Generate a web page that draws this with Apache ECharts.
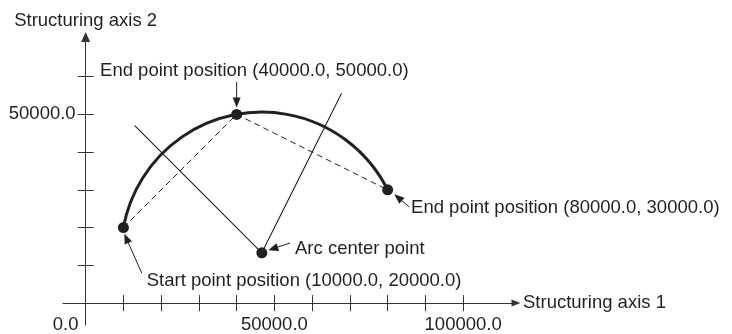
<!DOCTYPE html>
<html>
<head>
<meta charset="utf-8">
<script src="https://cdn.jsdelivr.net/npm/echarts@6/dist/echarts.min.js"></script>
<style>
html, body { margin: 0; padding: 0; background: #fff; }
#chart { width: 732px; height: 334px; }
</style>
</head>
<body>
<div id="chart"></div>
<script>
// points of the arc (structuring axis 1, structuring axis 2)
var startPoint = [10000, 20000];
var endPoint1 = [40000, 50000];
var endPoint2 = [80000, 30000];
var arcCenter = [46667, 13333];
// far ends of the two perpendicular bisectors drawn through the center
var bisectorEnds = [[13000, 47000], [67800, 55600]];

// axis ticks and labels
var xTickValues = [10000, 20000, 30000, 40000, 50000, 60000, 70000, 80000, 90000, 100000];
var yTickValues = [10000, 20000, 30000, 40000, 50000, 60000];
var xLabelValues = [0, 50000, 100000];
var yLabelValues = [50000];

var pointNames = [
	'Start point position (10000.0, 20000.0)',
	'End point position (40000.0, 50000.0)',
	'End point position (80000.0, 30000.0)',
	'Arc center point'
];
var annotatedPoints = [startPoint, endPoint1, endPoint2, arcCenter];

// pixel offsets of arrow tip / tail and text, relative to each point
var annotationLayout = [
	{ tip: [0.9, 6.1], tail: [18.3, 45.4], text: [23.3, 52.9], align: 'left' },
	{ tip: [0, -7], tail: [0, -32.4], text: [-136.6, -43.7], align: 'left' },
	{ tip: [6.6, 4.4], tail: [21.7, 17.1], text: [23.4, 17.9], align: 'left' },
	{ tip: [6.5, -2.5], tail: [28.2, -9.8], text: [33.2, -4.1], align: 'left' }
];

var ink = '#231f20';
var axisColor = '#333';
var fontFamily = '"Liberation Sans", Arial, sans-serif';
var fontSize = 18.5;

// axis extents (axis lines run a little past the origin) and grid box
var xMin = -6000, xMax = 114000;
var yMin = -5800, yMax = 70500;
var gridLeft = 63, gridTop = 37, gridWidth = 453, gridHeight = 288;
// shift the axes from the grid edge to the origin
var xAxisShift = -(0 - yMin) / (yMax - yMin) * gridHeight;
var yAxisShift = -(0 - xMin) / (xMax - xMin) * gridWidth;

var myChart = echarts.init(document.getElementById('chart'));

function fmt(v) {
	if (v === 0) {
		return '{z|0.0}';
	}
	return v.toFixed(1);
}

var option = {
	animation: false,
	grid: {
		left: gridLeft,
		top: gridTop,
		width: gridWidth,
		height: gridHeight,
		containLabel: false,
		outerBoundsMode: 'none'
	},
	xAxis: [
		{
			type: 'value',
			min: xMin,
			max: xMax,
			position: 'bottom',
			offset: xAxisShift,
			name: 'Structuring axis 1',
			nameLocation: 'end',
			nameGap: 7,
			nameTextStyle: { color: ink, fontSize: fontSize, fontFamily: fontFamily, padding: [0, 0, 3, 0] },
			axisLine: {
				onZero: false,
				symbol: ['none', 'triangle'],
				symbolSize: [7, 9],
				lineStyle: { color: axisColor, width: 1 }
			},
			axisTick: { length: 8, customValues: xTickValues, lineStyle: { color: axisColor, width: 1 } },
			axisLabel: {
				customValues: xLabelValues,
				margin: 12,
				color: ink,
				fontSize: fontSize,
				fontFamily: fontFamily,
				formatter: fmt,
				rich: {
					z: { color: ink, fontSize: fontSize, fontFamily: fontFamily, padding: [0, 40, 0, 0] }
				}
			},
			splitLine: { show: false }
		},
		{
			// second axis only for the tick halves above the line
			type: 'value',
			min: xMin,
			max: xMax,
			position: 'bottom',
			offset: xAxisShift,
			axisLine: { show: false, onZero: false },
			axisTick: { show: true, inside: true, length: 8, customValues: xTickValues, lineStyle: { color: axisColor, width: 1 } },
			axisLabel: { show: false },
			splitLine: { show: false }
		}
	],
	yAxis: [
		{
			type: 'value',
			min: yMin,
			max: yMax,
			position: 'left',
			offset: yAxisShift,
			name: 'Structuring axis 2',
			nameLocation: 'end',
			nameGap: 7,
			nameTextStyle: { color: ink, fontSize: fontSize, fontFamily: fontFamily },
			axisLine: {
				onZero: false,
				symbol: ['none', 'triangle'],
				symbolSize: [9, 10],
				lineStyle: { color: axisColor, width: 1 }
			},
			axisTick: { length: 8, customValues: yTickValues, lineStyle: { color: axisColor, width: 1 } },
			axisLabel: {
				customValues: yLabelValues,
				margin: 10,
				color: ink,
				fontSize: fontSize,
				fontFamily: fontFamily,
				formatter: fmt
			},
			splitLine: { show: false }
		},
		{
			type: 'value',
			min: yMin,
			max: yMax,
			position: 'left',
			offset: yAxisShift,
			axisLine: { show: false, onZero: false },
			axisTick: { show: true, inside: true, length: 8, customValues: yTickValues, lineStyle: { color: axisColor, width: 1 } },
			axisLabel: { show: false },
			splitLine: { show: false }
		}
	],
	series: [
		{
			name: 'bisectors',
			type: 'line',
			data: [bisectorEnds[0], arcCenter, bisectorEnds[1]],
			showSymbol: false,
			silent: true,
			lineStyle: { color: ink, width: 1.1 }
		},
		{
			name: 'chords',
			type: 'line',
			data: [startPoint, endPoint1, endPoint2],
			showSymbol: false,
			silent: true,
			lineStyle: { color: ink, width: 1, type: [6, 4] }
		},
		{
			name: 'arc',
			type: 'custom',
			silent: true,
			data: [[arcCenter[0], arcCenter[1], startPoint[0], startPoint[1], endPoint2[0], endPoint2[1]]],
			encode: { x: [0, 2, 4], y: [1, 3, 5] },
			renderItem: function (params, api) {
				var c = api.coord([api.value(0), api.value(1)]);
				var s = api.coord([api.value(2), api.value(3)]);
				var e = api.coord([api.value(4), api.value(5)]);
				var r = Math.sqrt((s[0] - c[0]) * (s[0] - c[0]) + (s[1] - c[1]) * (s[1] - c[1]));
				return {
					type: 'arc',
					shape: {
						cx: c[0],
						cy: c[1],
						r: r,
						startAngle: Math.atan2(s[1] - c[1], s[0] - c[0]),
						endAngle: Math.atan2(e[1] - c[1], e[0] - c[0]),
						clockwise: true
					},
					style: { stroke: ink, lineWidth: 3, fill: null }
				};
			}
		},
		{
			name: 'points',
			type: 'scatter',
			data: annotatedPoints,
			symbolSize: 11,
			silent: true,
			itemStyle: { color: ink, opacity: 1 },
			z: 5
		},
		{
			name: 'annotations',
			type: 'custom',
			silent: true,
			data: annotatedPoints,
			z: 6,
			renderItem: function (params, api) {
				var p = api.coord([api.value(0), api.value(1)]);
				var a = annotationLayout[params.dataIndex];
				var tip = [p[0] + a.tip[0], p[1] + a.tip[1]];
				var tail = [p[0] + a.tail[0], p[1] + a.tail[1]];
				var dx = tip[0] - tail[0];
				var dy = tip[1] - tail[1];
				var len = Math.sqrt(dx * dx + dy * dy);
				var ux = dx / len, uy = dy / len;
				var hl = 10, hw = 4;
				var base = [tip[0] - ux * hl, tip[1] - uy * hl];
				return {
					type: 'group',
					children: [
						{
							type: 'line',
							shape: { x1: tail[0], y1: tail[1], x2: base[0] + ux * 2, y2: base[1] + uy * 2 },
							style: { stroke: ink, lineWidth: 1 }
						},
						{
							type: 'polygon',
							shape: { points: [tip, [base[0] - uy * hw, base[1] + ux * hw], [base[0] + uy * hw, base[1] - ux * hw]] },
							style: { fill: ink }
						},
						{
							type: 'text',
							style: {
								text: pointNames[params.dataIndex],
								x: p[0] + a.text[0],
								y: p[1] + a.text[1],
								fill: ink,
								font: fontSize + 'px ' + fontFamily,
								align: a.align,
								verticalAlign: 'middle'
							}
						}
					]
				};
			}
		}
	]
};

myChart.setOption(option);
</script>
</body>
</html>
